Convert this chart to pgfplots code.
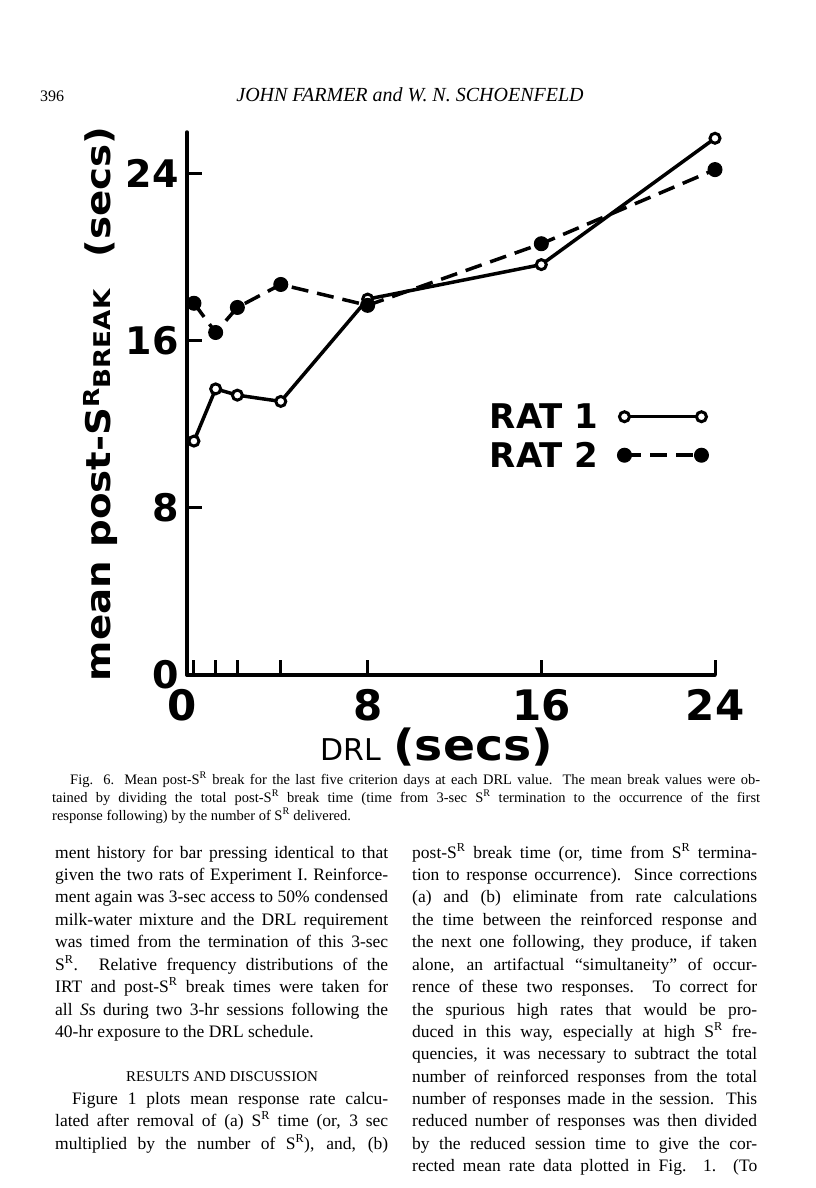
\documentclass[border=0pt]{standalone}
\usepackage{fontspec}
\setmainfont{Liberation Serif}
\newfontfamily\figfont{DejaVu Sans}
\usepackage{graphicx}
\usepackage{pgfplots}
\pgfplotsset{compat=1.18}

\newcommand\SR{S\textsuperscript{R}}
\newcommand\bodyfont{\fontsize{17.5bp}{20bp}\selectfont}
\newcommand\capfont{\fontsize{14.5bp}{16bp}\selectfont}
% justified line: x, baseline y, width, text
\newcommand\bl[4]{\node[anchor=base west,inner sep=0pt] at (#1bp,-#2bp) {\bodyfont\makebox[#3bp][s]{#4}};}
% natural line
\newcommand\nl[3]{\node[anchor=base west,inner sep=0pt] at (#1bp,-#2bp) {\bodyfont #3};}
\newcommand\cl[4]{\node[anchor=base west,inner sep=0pt] at (#1bp,-#2bp) {\capfont\makebox[#3bp][s]{#4}};}

\pgfplotstableread{
x y
0 11.2
1 13.7
2 13.4
4 13.1
8 18.0
16 19.65
24 25.7
}\ratone
\pgfplotstableread{
x y
0 17.8
1 16.4
2 17.6
4 18.7
8 17.7
16 20.65
24 24.2
}\rattwo

\begin{document}
\begin{tikzpicture}
\path[use as bounding box] (0,0) rectangle (816bp,-1188bp);

% running head
\node[anchor=base west,inner sep=0pt] at (40bp,-101bp) {\fontsize{16bp}{18bp}\selectfont 396};
\node[anchor=base,inner sep=0pt] at (410bp,-101bp) {\fontsize{20bp}{22bp}\selectfont\itshape JOHN FARMER and W. N. SCHOENFELD};

\begin{axis}[
  at={(187bp,-675bp)}, anchor=south west,
  scale only axis, width=528bp, height=543bp,
  xmin=-0.32, xmax=24, ymin=0, ymax=26,
  axis x line*=bottom, axis y line*=left,
  axis line style={line width=3.5bp, line cap=round},
  every tick/.style={black, line width=3bp},
  tick align=inside, major tick length=15bp,
  xtick={0,1,2,4,8,16,24}, xticklabels={\makebox[52bp][l]{0},,,,8,16,24},
  ytick={0,8,16,24}, yticklabels={0\hspace{12bp},8,16,24},
  x tick label style={font=\figfont\bfseries\fontsize{42bp}{42bp}\selectfont, yshift=-11bp},
  y tick label style={font=\figfont\bfseries\fontsize{38bp}{38bp}\selectfont, xshift=-5bp},
  clip=false,
  every axis x label/.style={at={(rel axis cs:0.473,-0.158)}, anchor=base},
  every axis y label/.style={at={(rel axis cs:-0.144,0.499)}, rotate=90, anchor=base},
  xlabel={\figfont\fontsize{30bp}{30bp}\selectfont DRL\hspace{12bp}\scalebox{1.1}[1]{\bfseries\fontsize{43bp}{43bp}\selectfont(secs)}},
  ylabel={\scalebox{1.14}[1]{\figfont\bfseries\fontsize{34bp}{34bp}\selectfont mean post-S\raisebox{11bp}{\fontsize{22bp}{22bp}\selectfont R}\fontsize{23bp}{23bp}\selectfont BREAK\hspace{28bp}\fontsize{34bp}{34bp}\selectfont(secs)}},
  legend style={at={(rel axis cs:0.562,0.44)}, anchor=west, draw=none, fill=none,
    font=\figfont\bfseries\fontsize{34bp}{34bp}\selectfont,
    nodes={inner sep=3bp}, row sep=6bp, column sep=16bp},
  legend plot pos=right, legend cell align=left,
  legend image code/.code={\draw[#1] plot coordinates {(0bp,0bp) (77bp,0bp)};},
]
\addplot[black, line width=3.5bp, mark=*, mark size=5bp,
  mark options={fill=white, draw=black, line width=3bp, solid}] table[x=x,y=y] {\ratone};
\addlegendentry{RAT 1}
\addplot[black, line width=3.5bp, dash pattern=on 17bp off 9bp, mark=*, mark size=7bp,
  mark options={fill=black, draw=black, solid, line width=1bp}] table[x=x,y=y] {\rattwo};
\addlegendentry{RAT 2}
\end{axis}

% caption
\cl{70}{784}{690}{Fig. 6. Mean post-\SR{} break for the last five criterion days at each DRL value. The mean break values were ob-}
\cl{52}{802}{708}{tained by dividing the total post-\SR{} break time (time from 3-sec \SR{} termination to the occurrence of the first}
\node[anchor=base west,inner sep=0pt] at (52bp,-820bp) {\capfont response following) by the number of \SR{} delivered.};

% left column
\bl{55}{858}{333}{ment history for bar pressing identical to that}
\bl{55}{880}{333}{given the two rats of Experiment I. Reinforce-}
\bl{55}{902}{333}{ment again was 3-sec access to 50\% condensed}
\bl{55}{925}{333}{milk-water mixture and the DRL requirement}
\bl{55}{947}{333}{was timed from the termination of this 3-sec}
\bl{55}{970}{333}{\SR. Relative frequency distributions of the}
\bl{55}{992}{333}{IRT and post-\SR{} break times were taken for}
\bl{55}{1015}{333}{all \textit{S}s during two 3-hr sessions following the}
\nl{55}{1037}{40-hr exposure to the DRL schedule.}
\node[anchor=base,inner sep=0pt] at (222bp,-1081bp) {\fontsize{15bp}{17bp}\selectfont RESULTS AND DISCUSSION};
\bl{72}{1104}{316}{Figure 1 plots mean response rate calcu-}
\bl{55}{1126}{333}{lated after removal of (a) \SR{} time (or, 3 sec}
\bl{55}{1149}{333}{multiplied by the number of \SR), and, (b)}

% right column
\bl{412}{858}{345}{post-\SR{} break time (or, time from \SR{} termina-}
\bl{412}{880}{345}{tion to response occurrence). Since corrections}
\bl{412}{902}{345}{(a) and (b) eliminate from rate calculations}
\bl{412}{925}{345}{the time between the reinforced response and}
\bl{412}{947}{345}{the next one following, they produce, if taken}
\bl{412}{970}{345}{alone, an artifactual ``simultaneity'' of occur-}
\bl{412}{992}{345}{rence of these two responses. To correct for}
\bl{412}{1015}{345}{the spurious high rates that would be pro-}
\bl{412}{1037}{345}{duced in this way, especially at high \SR{} fre-}
\bl{412}{1059}{345}{quencies, it was necessary to subtract the total}
\bl{412}{1082}{345}{number of reinforced responses from the total}
\bl{412}{1104}{345}{number of responses made in the session. This}
\bl{412}{1126}{345}{reduced number of responses was then divided}
\bl{412}{1149}{345}{by the reduced session time to give the cor-}
\bl{412}{1171}{345}{rected mean rate data plotted in Fig. 1. (To}
\end{tikzpicture}
\end{document}
